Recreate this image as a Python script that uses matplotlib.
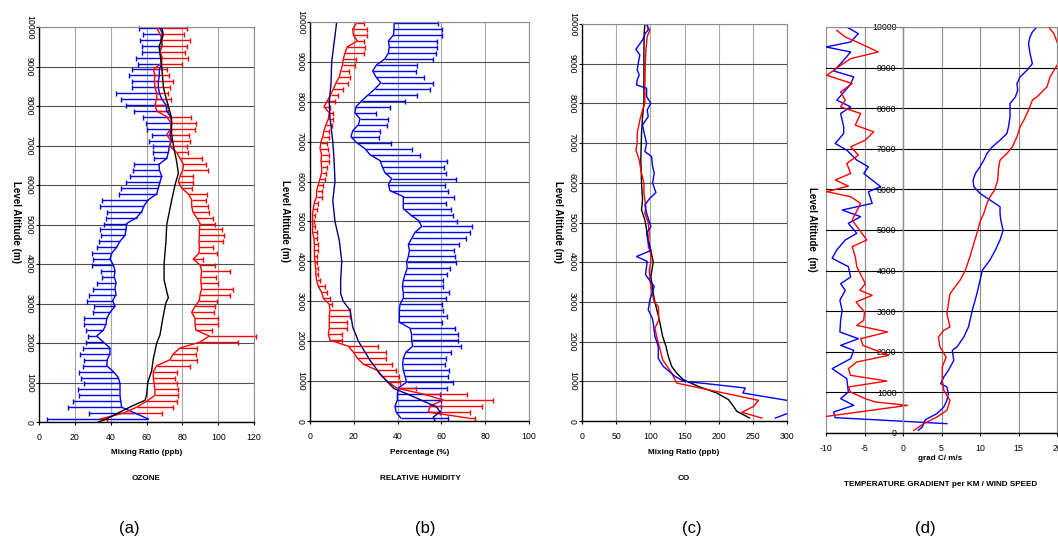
import matplotlib
matplotlib.use('Agg')
import matplotlib.pyplot as plt

plt.rcParams['font.family'] = ['Liberation Sans', 'DejaVu Sans']
plt.rcParams['axes.unicode_minus'] = False

# ---------------- DATA ----------------
ALT_TICKS = [0, 1000, 2000, 3000, 4000, 5000, 6000, 7000, 8000, 9000, 10000]

# common levels (m) of the profiles with error bars, top -> bottom
LEV = [9975, 9825, 9675, 9525, 9375, 9225, 9075, 8925, 8775, 8625, 8475, 8325, 8175, 8025,
       7875, 7725, 7575, 7425, 7275, 7125, 6975, 6825, 6675, 6525, 6375, 6225, 6075, 5925,
       5775, 5625, 5475, 5325, 5175, 5025, 4875, 4725, 4575, 4425, 4275, 4125, 3975, 3825,
       3675, 3525, 3375, 3225, 3075, 2925, 2775, 2625, 2475, 2325, 2175, 2025, 1875, 1725,
       1575, 1425, 1275, 1125, 975, 825, 675, 525, 375, 225, 75]

# (a) OZONE
O3_BLUE = [67.5, 69.0, 67.9, 68.8, 67.5, 68.1, 68.5, 67.2, 67.2, 66.6, 66.6, 67.2, 68.5, 70.9,
           71.3, 73.5, 74.0, 73.7, 73.1, 74.0, 72.7, 72.2, 71.3, 67.0, 67.2, 68.5, 67.5, 66.6,
           65.7, 61.0, 58.6, 57.3, 54.5, 48.9, 48.6, 48.0, 45.2, 43.3, 40.6, 39.6, 41.5,
           42.4, 42.0, 43.0, 42.4, 43.0, 41.1, 42.4, 39.6, 37.8, 37.4, 35.9, 32.2, 35.9, 39.6,
           39.6, 38.1, 37.8, 41.5, 44.3, 45.2, 45.2, 45.2, 45.6, 46.1, 53.6, 61.0]
O3_BLUE_LO = [56.0, 57.9, 56.4, 57.3, 57.3, 54.0, 55.4, 52.1, 50.4, 52.1, 51.7, 42.8, 45.6, 48.6,
              53.2, 57.9, 59.5, 60.1, 62.9, 61.6, 63.8, 63.8, 64.2, 53.2, 52.7, 50.8, 48.6, 45.8,
              44.7, 35.3, 34.0, 38.1, 37.4, 36.5, 34.0, 34.4, 33.5, 32.6, 29.8, 30.3, 29.8,
              34.4, 35.0, 32.2, 30.3, 27.9, 27.0, 30.9, 30.0, 25.1, 25.1, 26.2, 27.5, 26.2, 24.4,
              22.9, 25.3, 24.4, 22.3, 23.3, 25.1, 22.0, 22.5, 18.8, 16.4, 28.1, 4.3]
O3_RED = [65.7, 67.5, 68.8, 68.5, 67.5, 68.8, 68.1, 63.8, 64.7, 64.4, 64.7, 65.7, 65.7, 64.7,
          65.7, 71.3, 73.5, 73.5, 71.3, 73.5, 73.1, 76.8, 78.7, 80.6, 80.2, 78.7, 77.8, 79.6,
          83.3, 85.2, 85.2, 85.8, 88.0, 89.9, 89.5, 89.5, 89.3, 89.5, 89.3, 86.1, 89.9,
          90.8, 90.4, 90.4, 90.8, 89.9, 89.5, 87.1, 85.2, 87.1, 87.1, 87.6, 95.1, 89.9, 78.7,
          75.0, 73.1, 65.7, 63.8, 63.8, 64.2, 64.7, 64.7, 60.1, 54.5, 47.1, 34.0]
O3_RED_HI = [82.4, 81.1, 84.3, 82.4, 81.5, 83.3, 79.6, 71.3, 72.7, 74.6, 73.1, 72.2, 73.5, 71.3,
             72.2, 84.7, 87.6, 87.1, 83.9, 84.3, 82.4, 83.3, 91.2, 93.2, 94.5, 85.8, 85.8, 85.2,
             93.6, 93.2, 94.5, 95.1, 96.9, 98.2, 101.9, 103.3, 102.5, 97.3, 99.2, 91.7, 98.5,
             106.6, 98.8, 100.1, 108.1, 106.6, 99.5, 98.2, 97.9, 100.1, 100.1, 96.7, 121.0, 111.3,
             88.0, 87.4, 88.0, 84.3, 76.8, 75.9, 76.8, 77.8, 77.8, 76.8, 75.0, 68.8, 37.8]
O3_BLACK_ALT = [10000, 9800, 9500, 9000, 8500, 8300, 8000, 7700, 7300, 7000, 6600, 6300, 6000,
                5600, 5200, 5000, 4600, 4000, 3600, 3300, 3150, 3000, 2600, 2200, 2000, 1600,
                1300, 1000, 700, 550, 400, 230, 80, 0]
O3_BLACK = [68.5, 69.4, 67.0, 68.5, 69.4, 70.3, 72.2, 74.0, 74.0, 75.0, 76.8, 77.8, 75.9,
            74.0, 72.2, 71.3, 70.9, 69.8, 69.8, 71.3, 72.2, 70.7, 69.0, 67.5, 65.7, 63.8,
            62.9, 60.7, 60.1, 59.2, 51.7, 44.3, 37.8, 33.1]

# (b) RELATIVE HUMIDITY
RH_BLUE = [38.4, 38.4, 38.1, 35.8, 36.2, 35.8, 34.2, 30.4, 28.6, 30.1, 32.3, 29.7, 26.6, 23.6,
           21.0, 20.5, 22.8, 22.1, 19.5, 18.7, 21.3, 25.1, 27.4, 32.0, 33.0, 34.2, 37.3, 35.8,
           36.5, 42.6, 42.6, 42.6, 45.7, 49.5, 51.0, 47.9, 46.4, 44.9, 45.4, 44.9, 44.1,
           44.4, 43.4, 42.6, 42.2, 42.6, 42.6, 41.1, 40.8, 40.8, 40.8, 45.7, 46.4, 46.4, 46.9,
           43.8, 42.6, 42.3, 42.6, 43.4, 44.1, 40.3, 39.9, 39.9, 38.8, 39.3, 41.4]
RH_BLUE_HI = [58.6, 60.1, 60.4, 57.8, 58.1, 57.4, 56.0, 48.7, 48.2, 52.1, 56.0, 54.8, 48.7, 43.4,
              36.5, 30.1, 35.8, 35.3, 32.0, 31.5, 36.8, 46.4, 50.2, 62.4, 61.2, 62.1, 66.7, 61.6,
              63.2, 65.8, 62.1, 64.2, 65.4, 67.0, 74.1, 73.1, 71.1, 68.0, 65.8, 66.2, 66.5,
              63.9, 62.4, 60.9, 60.6, 63.5, 61.9, 60.1, 60.9, 62.4, 60.4, 66.2, 67.7, 67.7, 68.8,
              64.4, 61.9, 61.6, 63.5, 63.2, 65.1, 62.7, 59.4, 59.7, 59.7, 59.4, 62.9]
RH_RED = [21.3, 19.5, 19.8, 21.6, 17.0, 16.0, 15.2, 14.9, 14.0, 13.4, 11.9, 10.7, 9.4, 7.9,
          6.4, 8.8, 8.4, 7.3, 6.4, 5.8, 4.9, 4.6, 5.3, 5.0, 5.3, 5.3, 4.6, 3.8,
          3.0, 3.0, 2.0, 1.5, 1.2, 1.2, 1.2, 1.2, 1.8, 2.0, 2.0, 2.0, 2.3,
          2.6, 2.7, 3.0, 3.8, 5.3, 6.1, 8.8, 9.1, 8.8, 8.8, 8.8, 8.4, 9.1, 17.5,
          19.8, 21.6, 24.4, 30.4, 32.7, 35.8, 39.6, 51.7, 60.9, 54.8, 54.0, 72.0]
RH_RED_HI = [24.7, 26.2, 25.9, 24.7, 25.1, 24.8, 21.0, 20.5, 18.0, 18.3, 17.5, 14.9, 12.9, 11.4,
             9.1, 10.7, 10.7, 9.9, 8.8, 8.8, 7.6, 8.4, 8.8, 8.8, 7.6, 7.3, 6.8, 5.8,
             5.6, 5.3, 3.8, 3.0, 2.3, 1.8, 2.3, 3.0, 3.3, 3.5, 3.5, 3.3, 3.0,
             3.5, 3.8, 4.6, 6.8, 7.6, 9.1, 9.9, 18.3, 18.3, 17.0, 17.0, 14.5, 14.5, 31.2,
             34.7, 34.7, 37.3, 39.3, 40.8, 41.1, 48.2, 71.5, 83.4, 78.7, 73.1, 75.3]
RH_NAVY_ALT = [10000, 9000, 8465, 8000, 7626, 7000, 6535, 6000, 5528, 5000, 4522, 4000, 3525,
               3191, 3000, 2774, 2356, 2000, 1520, 1186, 1000, 810, 685, 518, 351, 226, 100, 0]
RH_NAVY = [12.2, 9.9, 9.6, 8.8, 9.1, 10.4, 11.0, 11.4, 10.4, 11.4, 13.4, 14.5, 14.0,
           14.0, 15.2, 18.3, 19.5, 22.1, 27.4, 32.0, 35.0, 38.4, 44.1, 51.0, 57.8, 59.4, 56.3, 57.1]

# (c) CO
CO_BLUE_ALT = [10000, 9849, 9765, 9597, 9362, 9220, 9052, 8842, 8716, 8591, 8465, 8381, 8171,
               8003, 7836, 7668, 7458, 7248, 6997, 6787, 6661, 6409, 6242, 5990, 5755, 5612,
               5445, 5235, 4899, 4732, 4480, 4295, 4144, 4019, 3683, 3389, 3054, 2802, 2592,
               2466, 2131, 1879, 1577, 1376, 1124, 998, 940, 831, 705, 520, 350, 185, 75]
CO_BLUE = [95.4, 96.9, 92.5, 88.6, 78.8, 84.7, 82.7, 80.8, 83.7, 80.8, 79.8, 94.5, 94.5,
           100.8, 95.4, 96.9, 88.6, 91.0, 94.5, 92.0, 101.8, 103.3, 105.7, 103.3, 108.2, 99.4,
           92.0, 94.5, 100.8, 94.5, 96.9, 100.8, 79.8, 95.4, 93.0, 105.7, 99.4, 96.9, 102.8,
           104.3, 106.7, 111.6, 111.6, 118.9, 136.1, 149.3, 182.6, 238.9, 235.4, 300.0, 330.0,
           300.0, 283.0]
CO_RED_ALT = [10000, 9849, 9681, 9346, 8926, 8423, 8003, 7836, 7584, 7248, 6997, 6829, 6577,
              6242, 5998, 5738, 5403, 5235, 5000, 4732, 4396, 4228, 4002, 3809, 3557, 3305,
              2995, 2886, 2550, 2341, 2131, 1879, 1544, 1208, 956, 520, 369, 218, 75]
CO_RED = [93.5, 99.4, 95.4, 93.5, 92.5, 92.0, 92.0, 88.6, 84.7, 80.8, 80.8, 78.8, 83.7,
          87.1, 90.6, 90.6, 93.5, 92.0, 96.9, 98.4, 96.9, 100.3, 100.8, 98.4, 99.4, 101.8,
          105.7, 111.6, 112.6, 106.7, 109.2, 113.1, 118.0, 131.2, 138.5, 258.4, 251.1, 234.0, 263.3]
CO_BLACK_ALT = [10000, 9765, 9346, 8507, 8003, 7668, 7248, 6577, 5998, 5570, 5319, 5067, 4732,
                4396, 4002, 3641, 3221, 2995, 2550, 2131, 1879, 1628, 1376, 1208, 1040, 872,
                705, 537, 369, 243, 201, 75]
CO_BLACK = [92.0, 91.0, 90.6, 90.6, 90.6, 88.6, 87.1, 86.1, 87.1, 88.6, 87.1, 92.0, 95.4,
            99.4, 104.3, 100.8, 104.3, 106.7, 113.1, 118.0, 122.9, 126.3, 131.2, 138.5, 148.3,
            170.3, 197.3, 214.4, 221.7, 226.6, 231.5, 245.2]

# (d) TEMPERATURE GRADIENT / WIND SPEED
WS_BLUE_ALT = [10000, 9877, 9754, 9590, 9344, 9098, 8934, 8770, 8607, 8443, 8279, 8115, 7787,
               7541, 7377, 7213, 7049, 6885, 6721, 6557, 6393, 6230, 6066, 5902, 5738, 5574,
               5410, 5246, 4992, 4754, 4508, 4262, 4007, 3760, 3432, 3021, 2611, 2365, 2118,
               2036, 1790, 1544, 1379, 1215, 1133, 969, 805, 640, 476, 328, 148, 66]
WS_BLUE = [17.4, 16.8, 16.5, 16.3, 16.5, 16.8, 16.1, 15.2, 14.8, 14.9, 14.6, 13.9, 13.9,
           13.7, 13.5, 12.6, 11.6, 10.9, 10.5, 10.0, 9.4, 9.1, 9.2, 10.0, 11.3, 12.6,
           12.6, 12.7, 13.0, 12.6, 12.0, 11.3, 10.3, 10.0, 9.6, 9.0, 8.5, 7.9, 7.0,
           6.4, 6.6, 5.9, 5.3, 4.9, 5.7, 5.9, 5.7, 5.3, 4.4, 2.9, 2.5, 2.0]
WS_RED_ALT = [10000, 9836, 9631, 9344, 9057, 8770, 8525, 8279, 8197, 7951, 7705, 7541, 7295,
              7049, 6885, 6721, 6516, 6230, 5984, 5820, 5656, 5410, 5205, 4918, 4672, 4344,
              4007, 3760, 3432, 3186, 2939, 2611, 2529, 2365, 2118, 1872, 1626, 1297, 1051,
              805, 558, 394, 230, 66]
WS_RED = [18.9, 19.6, 20.0, 20.8, 20.0, 19.1, 18.7, 17.4, 16.8, 16.3, 15.7, 15.2, 14.8,
          14.2, 13.5, 12.6, 12.4, 12.3, 11.9, 11.3, 10.9, 10.5, 10.0, 9.6, 9.2, 8.7,
          8.1, 7.4, 6.1, 5.9, 5.7, 6.1, 5.3, 4.6, 4.8, 5.6, 5.1, 5.1, 5.3,
          6.1, 5.7, 4.4, 2.7, 1.4]
TG_BLUE_ALT = [10000, 9836, 9631, 9508, 9385, 9139, 8918, 8770, 8566, 8197, 8033, 7869, 7541,
               7377, 7131, 6967, 6721, 6557, 6393, 6066, 5943, 5656, 5492, 5328, 5164, 4918,
               4754, 4508, 4303, 4098, 3842, 3678, 3514, 3268, 3021, 2775, 2488, 2323, 2159,
               2036, 1831, 1585, 1338, 1010, 846, 682, 517, 378, 230]
TG_BLUE = [-7.3, -5.8, -6.8, -10.0, -6.8, -7.9, -9.0, -6.4, -6.9, -8.6, -6.8, -8.1, -7.7,
           -7.7, -8.8, -7.3, -6.0, -4.5, -5.1, -2.9, -4.5, -4.0, -7.9, -5.5, -7.1, -6.0,
           -7.5, -8.6, -9.2, -7.1, -6.8, -8.1, -7.5, -8.2, -7.9, -8.1, -8.2, -5.8, -8.1,
           -6.4, -6.8, -9.2, -7.3, -7.1, -8.1, -6.4, -9.0, -8.8, 5.7]
TG_RED_ALT = [9918, 9754, 9631, 9385, 9221, 9016, 8811, 8607, 8402, 8197, 8033, 7869, 7582,
              7418, 7213, 7049, 6844, 6639, 6393, 6230, 6082, 5943, 5820, 5656, 5246, 4754,
              4590, 4344, 4098, 3678, 3514, 3391, 3227, 2980, 2775, 2652, 2488, 2323, 2159,
              1913, 1749, 1585, 1420, 1281, 1133, 1010, 846, 764, 681, 394]
TG_RED = [-8.6, -7.5, -6.0, -3.2, -6.8, -8.4, -9.9, -6.6, -8.1, -7.5, -8.1, -5.5, -6.2,
          -3.8, -4.9, -6.8, -5.8, -7.3, -6.8, -8.8, -7.1, -9.9, -6.8, -5.5, -6.6, -4.7,
          -6.6, -6.2, -6.0, -4.9, -5.6, -4.0, -6.1, -5.0, -5.1, -6.0, -2.0, -5.5, -5.2,
          -1.9, -6.0, -7.1, -6.8, -2.1, -7.1, -6.8, -4.9, -3.6, 0.6, -10.5]

# ---------------- FIGURE ----------------
W, H = 1058, 537
fig = plt.figure(figsize=(W / 100, H / 100), dpi=100)

BLUE, RED, NAVY = '#0000FF', '#FF0000', '#000080'
TICK_FS = 6.3


def px_box(l, t, r, b):
    return [l / W, 1 - b / H, (r - l) / W, (b - t) / H]


def ftext(x, y, s, **kw):
    fig.text(x / W, 1 - y / H, s, ha='center', va='center', **kw)


def style(ax, xticks, xlim, hcol='#505050', vcol='#a6a6a6'):
    ax.set_xlim(*xlim)
    ax.set_ylim(0, 10000)
    ax.set_xticks(xticks)
    ax.set_yticks(ALT_TICKS)
    ax.set_axisbelow(True)
    ax.grid(True, axis='x', color=vcol, lw=0.8)
    ax.grid(True, axis='y', color=hcol, lw=0.8)
    for s in ('top', 'right'):
        ax.spines[s].set_color('#8c8c8c')
        ax.spines[s].set_linewidth(0.8)
    for s in ('left', 'bottom'):
        ax.spines[s].set_color('black')
        ax.spines[s].set_linewidth(1.0)
    ax.tick_params(axis='both', direction='out', length=2.2, width=0.8,
                   labelsize=TICK_FS, colors='black')
    ax.tick_params(axis='x', pad=6)
    ax.tick_params(axis='y', pad=1.5)
    for lab in ax.get_yticklabels():
        lab.set_rotation(-90)
        lab.set_va('center')
        lab.set_ha('right')


def err_left(ax, lev, lo, mean, color):
    ax.hlines(lev, lo, mean, color=color, lw=1.0, clip_on=False)
    ax.plot(lo, lev, ls='none', marker='|', ms=3.6, mew=1.0, color=color, clip_on=False)


def err_right(ax, lev, mean, hi, color):
    ax.hlines(lev, mean, hi, color=color, lw=1.0, clip_on=False)
    ax.plot(hi, lev, ls='none', marker='|', ms=3.6, mew=1.0, color=color, clip_on=False)


LW = 1.0

# (a)
ax = fig.add_axes(px_box(39, 27, 254, 422))
style(ax, [0, 20, 40, 60, 80, 100, 120], (0, 120))
err_left(ax, LEV, O3_BLUE_LO, O3_BLUE, BLUE)
err_right(ax, LEV, O3_RED, O3_RED_HI, RED)
ax.plot(O3_BLUE, LEV, color=BLUE, lw=LW)
ax.plot(O3_RED, LEV, color=RED, lw=LW)
ax.plot(O3_BLACK, O3_BLACK_ALT, color='black', lw=LW)

# (b)
ax = fig.add_axes(px_box(310, 22, 529, 421))
style(ax, [0, 20, 40, 60, 80, 100], (0, 100))
err_right(ax, LEV, RH_BLUE, RH_BLUE_HI, BLUE)
err_right(ax, LEV, RH_RED, RH_RED_HI, RED)
ax.plot(RH_BLUE, LEV, color=BLUE, lw=LW)
ax.plot(RH_RED, LEV, color=RED, lw=LW)
ax.plot(RH_NAVY, RH_NAVY_ALT, color=NAVY, lw=LW)

# (c)
ax = fig.add_axes(px_box(582, 24, 787, 421))
style(ax, [0, 50, 100, 150, 200, 250, 300], (0, 300))
ax.plot(CO_BLACK, CO_BLACK_ALT, color='black', lw=LW)
ax.plot(CO_RED, CO_RED_ALT, color=RED, lw=LW)
ax.plot(CO_BLUE, CO_BLUE_ALT, color=BLUE, lw=LW)

# (d)
ax = fig.add_axes(px_box(826, 27, 1057, 433))
style(ax, [-10, -5, 0, 5, 10, 15, 20], (-10, 20), hcol='black', vcol='#8c8c8c')
ax.spines['left'].set_position(('data', 0))
ax.spines['left'].set_color('#8c8c8c')
ax.tick_params(axis='y', pad=2.5)
ax.plot(TG_BLUE, TG_BLUE_ALT, color=BLUE, lw=LW)
ax.plot(TG_RED, TG_RED_ALT, color=RED, lw=LW)
ax.plot(WS_BLUE, WS_BLUE_ALT, color=BLUE, lw=LW)
ax.plot(WS_RED, WS_RED_ALT, color=RED, lw=LW)

# ---------------- TEXTS ----------------
LAB_FS, TIT_FS, YL_FS, LET_FS = 5.9, 5.9, 7.0, 12

ftext(147, 453, 'Mixing Ratio (ppb)', fontsize=LAB_FS, fontweight='bold')
ftext(146, 478, 'OZONE', fontsize=TIT_FS, fontweight='bold')
ftext(129, 528, '(a)', fontsize=LET_FS)
ftext(16, 222, 'Level Altitude (m)', fontsize=YL_FS, fontweight='bold', rotation=-90)

ftext(420, 453, 'Percentage (%)', fontsize=LAB_FS, fontweight='bold')
ftext(420, 478, 'RELATIVE HUMIDITY', fontsize=TIT_FS, fontweight='bold')
ftext(425, 528, '(b)', fontsize=LET_FS)
ftext(285, 221, 'Level Altitude (m)', fontsize=YL_FS, fontweight='bold', rotation=-90)

ftext(684, 453, 'Mixing Ratio (ppb)', fontsize=LAB_FS, fontweight='bold')
ftext(684, 478, 'CO', fontsize=TIT_FS, fontweight='bold')
ftext(692, 528, '(c)', fontsize=LET_FS)
ftext(558, 222, 'Level Altitude (m)', fontsize=YL_FS, fontweight='bold', rotation=-90)

ftext(940, 459, 'grad C/ m/s', fontsize=LAB_FS, fontweight='bold')
ftext(941, 485, 'TEMPERATURE GRADIENT per KM / WIND SPEED', fontsize=TIT_FS, fontweight='bold')
ftext(925, 528, '(d)', fontsize=LET_FS)
ftext(812, 229, 'Level Altitude  (m)', fontsize=YL_FS, fontweight='bold', rotation=-90)

fig.savefig('out.png', dpi=100)
